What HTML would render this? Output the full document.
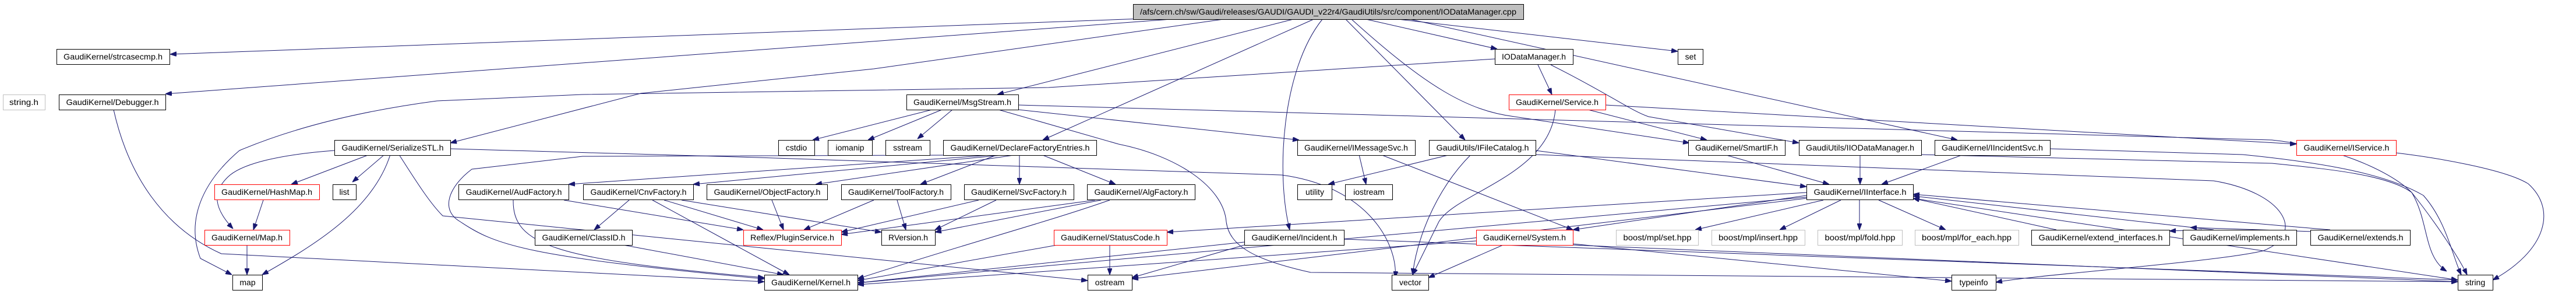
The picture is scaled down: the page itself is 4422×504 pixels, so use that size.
<!DOCTYPE html>
<html><head><meta charset="utf-8"><style>
html,body{margin:0;padding:0;background:#fff;}
svg{display:block;}
text{font-family:"Liberation Sans",sans-serif;font-size:14px;fill:#000;}
path{fill:none;stroke:#191970;stroke-width:1;}
</style></head><body>
<svg width="4422" height="504" viewBox="0 0 4422 504" xmlns="http://www.w3.org/2000/svg">
<defs>
<marker id="a" markerWidth="11" markerHeight="8" refX="11" refY="4" orient="auto" markerUnits="userSpaceOnUse">
<path d="M0,0 L11,4 L0,8 Z" style="fill:#191970;stroke:#191970"/>
</marker>
</defs>
<g marker-end="url(#a)">
<!-- main -->
<path d="M1960,32 L292,93"/>
<path d="M2010,33 L284,161"/>
<path d="M2220,33 L1712,162"/>
<path d="M2255,33 L1790,240"/>
<path d="M2270,33 C2200,120 2190,300 2214,394"/>
<path d="M2310,33 L2515,240"/>
<path d="M2320,33 C2450,150 2520,190 2600,200 L2900,245"/>
<path d="M2345,33 L2570,84"/>
<path d="M2400,33 L2880,88"/>
<path d="M2420,33 L3360,240"/>
<path d="M2100,33 L1500,118 L1100,160 L773,245"/>
<!-- IODataManager.h -->
<path d="M2640,111 L2664,162"/>
<path d="M2566,101 L1800,150 L1000,162 L750,173 C622,190 506,218 411,258 C344,315 320,380 344,443 L398,471"/>
<path d="M2662,111 C2760,160 2800,190 2830,200 L3088,245"/>
<!-- Service.h -->
<path d="M2670,188 C2660,300 2500,330 2470,380 L2425,471"/>
<path d="M2726,188 L2930,240"/>
<path d="M2756,180 L3942,247"/>
<!-- MsgStream -->
<path d="M1600,188 L1395,240"/>
<path d="M1617,188 L1490,240"/>
<path d="M1635,188 L1575,238"/>
<path d="M1748,188 L2230,240"/>
<path d="M1714,188 L1920,247 C2020,267 2100,320 2105,380 C2110,420 2150,445 2250,467 L4219,483"/>
<path d="M1748,180 L3900,240 C4000,250 4100,290 4140,330 C4170,380 4160,440 4200,465"/>
<!-- SerializeSTL -->
<path d="M634,265 L500,316"/>
<path d="M660,265 L605,312"/>
<path d="M574,258 C480,265 420,280 395,300 C360,330 370,360 400,392"/>
<path d="M670,265 C640,360 540,420 450,471"/>
<path d="M685,265 C720,320 740,350 760,370 L1867,481"/>
<path d="M773,255 L1300,270 L2200,300 C2350,320 2400,420 2395,476"/>
<!-- HashMap, Map -->
<path d="M452,343 L435,394"/>
<path d="M424,420 L424,471"/>
<!-- Debugger -->
<path d="M195,188 C220,300 280,390 380,435 L1312,483"/>
<!-- DeclareFactoryEntries -->
<path d="M1700,266 L976,316"/>
<path d="M1720,266 L1190,316"/>
<path d="M1740,266 L1400,316"/>
<path d="M1710,266 L1580,316"/>
<path d="M1750,266 L1750,316"/>
<path d="M1790,266 L1915,316"/>
<path d="M1619,266 L1000,268 L810,290 C770,320 755,360 790,380 C850,420 900,440 1312,478"/>
<!-- factories -->
<path d="M881,343 C880,420 950,445 1312,476"/>
<path d="M968,343 L1276,394"/>
<path d="M1080,343 L1020,394"/>
<path d="M1120,343 L1355,471"/>
<path d="M1140,343 L1310,394"/>
<path d="M1170,343 L1513,398"/>
<path d="M1325,343 L1345,394"/>
<path d="M1500,343 L1380,394"/>
<path d="M1540,343 L1555,394"/>
<path d="M1680,343 L1444,398"/>
<path d="M1710,343 L1605,394"/>
<path d="M1880,343 L1444,402"/>
<path d="M1890,343 L1605,398"/>
<path d="M1905,343 C1800,380 1650,420 1472,478"/>
<path d="M1070,420 L1345,471"/>
<!-- StatusCode -->
<path d="M1905,420 L1905,471"/>
<path d="M1815,420 L1472,481"/>
<!-- IInterface -->
<path d="M3101,330 L2003,398"/>
<path d="M3101,335 L2700,394"/>
<path d="M3130,343 L2910,394"/>
<path d="M3160,343 L3055,394"/>
<path d="M3192,343 L3192,394"/>
<path d="M3225,343 L3340,394"/>
<path d="M3101,338 L1472,485"/>
<path d="M3101,340 L1943,478"/>
<path d="M3284,340 L4219,480"/>
<path d="M3530,394 L3284,340"/>
<path d="M3800,394 L3284,336"/>
<path d="M4000,394 L3284,333"/>
<path d="M3780,394 L3724,396"/>
<path d="M4000,398 L3760,390"/>
<!-- row3 to IInterface -->
<path d="M2960,265 L3140,316"/>
<path d="M3193,265 L3193,316"/>
<path d="M3370,265 L3230,316"/>
<path d="M2636,258 L3101,320"/>
<path d="M2490,265 L2280,316"/>
<path d="M2525,265 C2460,330 2430,420 2425,471"/>
<path d="M2636,265 L3800,310 C3920,330 3960,400 3885,430 C3800,450 3500,470 3426,484"/>
<path d="M2333,265 L2345,316"/>
<path d="M2370,265 L2700,394"/>
<path d="M3519,255 L3850,265 C4000,280 4100,300 4160,335 C4200,380 4210,440 4225,471"/>
<path d="M3298,265 L3900,280 C4000,290 4100,300 4140,330 C4180,380 4220,440 4235,471"/>
<path d="M4113,262 C4180,270 4300,290 4340,315 C4390,360 4370,430 4279,480"/>
<!-- System, Incident -->
<path d="M2580,420 L2452,476"/>
<path d="M2700,420 L4219,483"/>
<path d="M2700,418 L3350,482"/>
<path d="M2307,410 L4219,480"/>
<path d="M2136,415 L1472,485"/>
<path d="M2136,420 L1943,476"/>
<path d="M2534,413 L1472,488"/>
</g>
<rect x="1945.5" y="7.5" width="670" height="26" fill="#bfbfbf" stroke="#000"/>
<text x="2280" y="25" text-anchor="middle" textLength="646" lengthAdjust="spacingAndGlyphs">/afs/cern.ch/sw/Gaudi/releases/GAUDI/GAUDI_v22r4/GaudiUtils/src/component/IODataManager.cpp</text>
<g>
<rect x="97.5" y="84.5" width="194" height="26" fill="#fff" stroke="#000"/><text x="194" y="102" text-anchor="middle" textLength="170" lengthAdjust="spacingAndGlyphs">GaudiKernel/strcasecmp.h</text>
<rect x="5.5" y="162.5" width="72" height="26" fill="#fff" stroke="#bfbfbf"/><text x="41" y="180" text-anchor="middle" textLength="50" lengthAdjust="spacingAndGlyphs">string.h</text>
<rect x="101.5" y="162.5" width="183" height="26" fill="#fff" stroke="#000"/><text x="193" y="180" text-anchor="middle" textLength="159" lengthAdjust="spacingAndGlyphs">GaudiKernel/Debugger.h</text>
<rect x="574.5" y="240.5" width="199" height="26" fill="#fff" stroke="#000"/><text x="674" y="258" text-anchor="middle" textLength="175" lengthAdjust="spacingAndGlyphs">GaudiKernel/SerializeSTL.h</text>
<rect x="368.5" y="316.5" width="180" height="26" fill="#fff" stroke="#f00"/><text x="458" y="334" text-anchor="middle" textLength="156" lengthAdjust="spacingAndGlyphs">GaudiKernel/HashMap.h</text>
<rect x="571.5" y="316.5" width="40" height="26" fill="#fff" stroke="#000"/><text x="591" y="334" text-anchor="middle">list</text>
<rect x="351.5" y="394.5" width="146" height="26" fill="#fff" stroke="#f00"/><text x="424" y="412" text-anchor="middle" textLength="122" lengthAdjust="spacingAndGlyphs">GaudiKernel/Map.h</text>
<rect x="399.5" y="471.5" width="51" height="26" fill="#fff" stroke="#000"/><text x="425" y="489" text-anchor="middle">map</text>
<rect x="1336.5" y="240.5" width="62" height="26" fill="#fff" stroke="#000"/><text x="1367" y="258" text-anchor="middle">cstdio</text>
<rect x="1421.5" y="240.5" width="76" height="26" fill="#fff" stroke="#000"/><text x="1459" y="258" text-anchor="middle">iomanip</text>
<rect x="787.5" y="316.5" width="189" height="26" fill="#fff" stroke="#000"/><text x="882" y="334" text-anchor="middle" textLength="165" lengthAdjust="spacingAndGlyphs">GaudiKernel/AudFactory.h</text>
<rect x="1001.5" y="316.5" width="189" height="26" fill="#fff" stroke="#000"/><text x="1096" y="334" text-anchor="middle" textLength="165" lengthAdjust="spacingAndGlyphs">GaudiKernel/CnvFactory.h</text>
<rect x="1213.5" y="316.5" width="207" height="26" fill="#fff" stroke="#000"/><text x="1317" y="334" text-anchor="middle" textLength="183" lengthAdjust="spacingAndGlyphs">GaudiKernel/ObjectFactory.h</text>
<rect x="1444.5" y="316.5" width="188" height="26" fill="#fff" stroke="#000"/><text x="1538" y="334" text-anchor="middle" textLength="164" lengthAdjust="spacingAndGlyphs">GaudiKernel/ToolFactory.h</text>
<rect x="918.5" y="394.5" width="167" height="26" fill="#fff" stroke="#000"/><text x="1002" y="412" text-anchor="middle" textLength="143" lengthAdjust="spacingAndGlyphs">GaudiKernel/ClassID.h</text>
<rect x="1276.5" y="394.5" width="168" height="26" fill="#fff" stroke="#f00"/><text x="1360" y="412" text-anchor="middle" textLength="144" lengthAdjust="spacingAndGlyphs">Reflex/PluginService.h</text>
<rect x="1312.5" y="471.5" width="160" height="26" fill="#fff" stroke="#000"/><text x="1392" y="489" text-anchor="middle" textLength="136" lengthAdjust="spacingAndGlyphs">GaudiKernel/Kernel.h</text>
<rect x="1556.5" y="162.5" width="192" height="26" fill="#fff" stroke="#000"/><text x="1652" y="180" text-anchor="middle" textLength="168" lengthAdjust="spacingAndGlyphs">GaudiKernel/MsgStream.h</text>
<rect x="1520.5" y="240.5" width="76" height="26" fill="#fff" stroke="#000"/><text x="1558" y="258" text-anchor="middle">sstream</text>
<rect x="1619.5" y="240.5" width="263" height="26" fill="#fff" stroke="#000"/><text x="1751" y="258" text-anchor="middle" textLength="239" lengthAdjust="spacingAndGlyphs">GaudiKernel/DeclareFactoryEntries.h</text>
<rect x="1655.5" y="316.5" width="188" height="26" fill="#fff" stroke="#000"/><text x="1749" y="334" text-anchor="middle" textLength="164" lengthAdjust="spacingAndGlyphs">GaudiKernel/SvcFactory.h</text>
<rect x="1866.5" y="316.5" width="185" height="26" fill="#fff" stroke="#000"/><text x="1959" y="334" text-anchor="middle" textLength="161" lengthAdjust="spacingAndGlyphs">GaudiKernel/AlgFactory.h</text>
<rect x="1513.5" y="394.5" width="92" height="26" fill="#fff" stroke="#000"/><text x="1559" y="412" text-anchor="middle" textLength="68" lengthAdjust="spacingAndGlyphs">RVersion.h</text>
<rect x="1809.5" y="394.5" width="194" height="26" fill="#fff" stroke="#f00"/><text x="1906" y="412" text-anchor="middle" textLength="170" lengthAdjust="spacingAndGlyphs">GaudiKernel/StatusCode.h</text>
<rect x="1867.5" y="471.5" width="76" height="26" fill="#fff" stroke="#000"/><text x="1905" y="489" text-anchor="middle">ostream</text>
<rect x="2227.5" y="240.5" width="202" height="26" fill="#fff" stroke="#000"/><text x="2328" y="258" text-anchor="middle" textLength="178" lengthAdjust="spacingAndGlyphs">GaudiKernel/IMessageSvc.h</text>
<rect x="2227.5" y="316.5" width="59" height="26" fill="#fff" stroke="#000"/><text x="2257" y="334" text-anchor="middle">utility</text>
<rect x="2136.5" y="394.5" width="171" height="26" fill="#fff" stroke="#000"/><text x="2222" y="412" text-anchor="middle" textLength="147" lengthAdjust="spacingAndGlyphs">GaudiKernel/Incident.h</text>
<rect x="2566.5" y="84.5" width="134" height="26" fill="#fff" stroke="#000"/><text x="2633" y="102" text-anchor="middle" textLength="110" lengthAdjust="spacingAndGlyphs">IODataManager.h</text>
<rect x="2880.5" y="84.5" width="43" height="26" fill="#fff" stroke="#000"/><text x="2902" y="102" text-anchor="middle">set</text>
<rect x="2590.5" y="162.5" width="166" height="26" fill="#fff" stroke="#f00"/><text x="2673" y="180" text-anchor="middle" textLength="142" lengthAdjust="spacingAndGlyphs">GaudiKernel/Service.h</text>
<rect x="2453.5" y="240.5" width="183" height="26" fill="#fff" stroke="#000"/><text x="2545" y="258" text-anchor="middle" textLength="159" lengthAdjust="spacingAndGlyphs">GaudiUtils/IFileCatalog.h</text>
<rect x="2309.5" y="316.5" width="81" height="26" fill="#fff" stroke="#000"/><text x="2350" y="334" text-anchor="middle">iostream</text>
<rect x="2534.5" y="394.5" width="166" height="26" fill="#fff" stroke="#f00"/><text x="2617" y="412" text-anchor="middle" textLength="142" lengthAdjust="spacingAndGlyphs">GaudiKernel/System.h</text>
<rect x="2774.5" y="394.5" width="141" height="26" fill="#fff" stroke="#bfbfbf"/><text x="2845" y="412" text-anchor="middle" textLength="117" lengthAdjust="spacingAndGlyphs">boost/mpl/set.hpp</text>
<rect x="2938.5" y="394.5" width="160" height="26" fill="#fff" stroke="#bfbfbf"/><text x="3018" y="412" text-anchor="middle" textLength="136" lengthAdjust="spacingAndGlyphs">boost/mpl/insert.hpp</text>
<rect x="2389.5" y="471.5" width="63" height="26" fill="#fff" stroke="#000"/><text x="2421" y="489" text-anchor="middle">vector</text>
<rect x="2898.5" y="240.5" width="166" height="26" fill="#fff" stroke="#000"/><text x="2981" y="258" text-anchor="middle" textLength="142" lengthAdjust="spacingAndGlyphs">GaudiKernel/SmartIF.h</text>
<rect x="3088.5" y="240.5" width="210" height="26" fill="#fff" stroke="#000"/><text x="3193" y="258" text-anchor="middle" textLength="186" lengthAdjust="spacingAndGlyphs">GaudiUtils/IIODataManager.h</text>
<rect x="3321.5" y="240.5" width="198" height="26" fill="#fff" stroke="#000"/><text x="3420" y="258" text-anchor="middle" textLength="174" lengthAdjust="spacingAndGlyphs">GaudiKernel/IIncidentSvc.h</text>
<rect x="3101.5" y="316.5" width="183" height="26" fill="#fff" stroke="#000"/><text x="3193" y="334" text-anchor="middle" textLength="159" lengthAdjust="spacingAndGlyphs">GaudiKernel/IInterface.h</text>
<rect x="3120.5" y="394.5" width="145" height="26" fill="#fff" stroke="#bfbfbf"/><text x="3193" y="412" text-anchor="middle" textLength="121" lengthAdjust="spacingAndGlyphs">boost/mpl/fold.hpp</text>
<rect x="3287.5" y="394.5" width="178" height="26" fill="#fff" stroke="#bfbfbf"/><text x="3376" y="412" text-anchor="middle" textLength="154" lengthAdjust="spacingAndGlyphs">boost/mpl/for_each.hpp</text>
<rect x="3487.5" y="394.5" width="237" height="26" fill="#fff" stroke="#000"/><text x="3606" y="412" text-anchor="middle" textLength="213" lengthAdjust="spacingAndGlyphs">GaudiKernel/extend_interfaces.h</text>
<rect x="3747.5" y="394.5" width="195" height="26" fill="#fff" stroke="#000"/><text x="3845" y="412" text-anchor="middle" textLength="171" lengthAdjust="spacingAndGlyphs">GaudiKernel/implements.h</text>
<rect x="3350.5" y="471.5" width="76" height="26" fill="#fff" stroke="#000"/><text x="3388" y="489" text-anchor="middle">typeinfo</text>
<rect x="3942.5" y="240.5" width="171" height="26" fill="#fff" stroke="#f00"/><text x="4028" y="258" text-anchor="middle" textLength="147" lengthAdjust="spacingAndGlyphs">GaudiKernel/IService.h</text>
<rect x="3966.5" y="394.5" width="171" height="26" fill="#fff" stroke="#000"/><text x="4052" y="412" text-anchor="middle" textLength="147" lengthAdjust="spacingAndGlyphs">GaudiKernel/extends.h</text>
<rect x="4219.5" y="471.5" width="60" height="26" fill="#fff" stroke="#000"/><text x="4249" y="489" text-anchor="middle">string</text>
</g>
</svg>
</body></html>
